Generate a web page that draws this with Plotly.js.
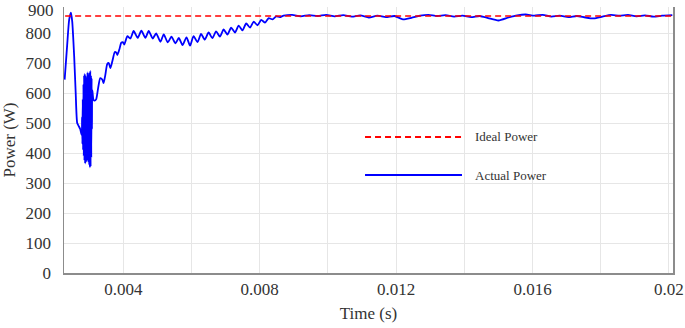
<!DOCTYPE html>
<html>
<head>
<meta charset="utf-8">
<script src="https://cdn.plot.ly/plotly-3.0.1.min.js"></script>
<style>
  body { margin: 0; background: #fff; }
  #grafico { width: 685px; height: 328px; }
</style>
</head>
<body>
<div id="grafico"></div>
<script>
// Potencia ideal (referencia constante)
const tiempoIdeal = [0.002, 0.021];
const potenciaIdeal = [857, 857];

const tiempoReal = [
  0.002279, 0.002353, 0.002412, 0.002462, 0.0025, 0.002559, 0.002603, 0.002647, 0.002691, 0.002735,
  0.00278, 0.00279, 0.0028, 0.00281, 0.00282, 0.00283, 0.00284, 0.00285, 0.00286, 0.00287,
  0.00288, 0.00289, 0.0029, 0.00291, 0.00292, 0.00293, 0.00294, 0.00295, 0.00296, 0.00297,
  0.00298, 0.00299, 0.003, 0.00301, 0.00302, 0.00303, 0.00304, 0.00305, 0.00306, 0.00307,
  0.00308, 0.00309, 0.003126, 0.003162, 0.003206, 0.003265, 0.003324, 0.003382, 0.003421, 0.003471,
  0.003529, 0.003574, 0.003618, 0.003676, 0.00375, 0.003794, 0.003824, 0.003882, 0.003941, 0.003985,
  0.004029, 0.004118, 0.004206, 0.004303, 0.004421, 0.004529, 0.004647, 0.004744, 0.004862, 0.004962,
  0.005088, 0.005185, 0.005303, 0.005412, 0.005529, 0.005626, 0.005735, 0.005853, 0.005956, 0.006059,
  0.006176, 0.006279, 0.006388, 0.0065, 0.006612, 0.00672, 0.006832, 0.006941, 0.007053, 0.007162,
  0.007274, 0.007382, 0.007494, 0.007603, 0.007715, 0.007824, 0.007935, 0.008044, 0.008156, 0.008265,
  0.008376, 0.008485, 0.008588, 0.0087, 0.00895, 0.0092, 0.00945, 0.0097, 0.00995, 0.0102,
  0.01045, 0.0107, 0.01095, 0.0112, 0.01145, 0.0117, 0.01195, 0.0122, 0.01245, 0.0127,
  0.01295, 0.0132, 0.01345, 0.0137, 0.01395, 0.0142, 0.01445, 0.0147, 0.015, 0.0153,
  0.01555, 0.0158, 0.01605, 0.0163, 0.01655, 0.0168, 0.01705, 0.0173, 0.01755, 0.0178,
  0.01805, 0.0183, 0.01855, 0.0188, 0.01905, 0.0193, 0.01955, 0.0198, 0.0201
];
const potenciaReal = [
  645, 760, 845, 868, 840, 720, 600, 500, 490, 480,
  460, 520, 430, 580, 410, 630, 390, 660, 375, 665,
  365, 660, 368, 650, 372, 655, 380, 670, 375, 660,
  368, 665, 360, 670, 352, 675, 355, 660, 385, 650,
  480, 610, 577, 575, 580, 620, 650, 645, 633, 660,
  697, 700, 683, 705, 737, 735, 727, 745, 768, 770,
  762, 790, 782, 807, 784, 808, 784, 807, 782, 799,
  771, 796, 769, 788, 766, 784, 760, 786, 758, 790,
  770, 797, 778, 802, 783, 806, 788, 812, 795, 818,
  802, 825, 809, 832, 818, 838, 826, 844, 835, 850,
  846, 856, 853, 858, 861, 856, 860, 857, 861, 856,
  860, 855, 859, 852, 858, 853, 857, 846, 851, 858,
  861, 857, 860, 855, 858, 853, 857, 850, 842, 852,
  859, 862, 858, 861, 855, 858, 853, 857, 852, 849,
  855, 861, 858, 861, 856, 859, 855, 858, 860
];

const fuente = '"Liberation Serif", "Times New Roman", serif';
const colorTexto = '#333333';

let datos = [
  {
    x: tiempoReal,
    y: potenciaReal,
    type: 'scatter',
    mode: 'lines',
    name: 'Actual Power',
    line: { color: '#0000ff', width: 1.8, simplify: false, shape: 'spline', smoothing: 0.6 }
  },
  {
    x: tiempoIdeal,
    y: potenciaIdeal,
    type: 'scatter',
    mode: 'lines',
    name: 'Ideal Power',
    line: { color: '#ff0000', width: 1.5, dash: '6px,4px' }
  }
];

let layout = {
  width: 685,
  height: 328,
  margin: { l: 64, r: 12, t: 7, b: 55 },
  paper_bgcolor: '#ffffff',
  plot_bgcolor: '#ffffff',
  showlegend: false,
  font: { family: fuente, size: 17, color: colorTexto },
  xaxis: {
    range: [0.00226, 0.02012],
    tick0: 0,
    dtick: 0.004,
    showgrid: true,
    gridcolor: '#e6e6e6',
    gridwidth: 1,
    minor: { dtick: 0.002, showgrid: true, gridcolor: '#e6e6e6', gridwidth: 1 },
    showline: true,
    linecolor: '#8c8c8c',
    linewidth: 1.5,
    zeroline: false,
    ticks: '',
    ticklabelstandoff: 0,
    tickfont: { family: fuente, size: 17, color: colorTexto },
    title: { text: 'Time (s)', font: { family: fuente, size: 17, color: colorTexto }, standoff: 9 }
  },
  yaxis: {
    range: [0, 887],
    dtick: 100,
    showgrid: true,
    gridcolor: '#e6e6e6',
    gridwidth: 1,
    showline: true,
    mirror: true,
    linecolor: '#8c8c8c',
    linewidth: 1.5,
    zeroline: false,
    ticks: '',
    ticklabelstandoff: 8,
    tickfont: { family: fuente, size: 17, color: colorTexto },
    title: { text: 'Power (W)', font: { family: fuente, size: 17, color: colorTexto }, standoff: 8 }
  },
  shapes: [
    // Muestras de la leyenda
    { type: 'line', xref: 'paper', yref: 'paper', x0: 0.4943, x1: 0.6535, y0: 0.5113, y1: 0.5113,
      line: { color: '#ff0000', width: 2, dash: '6px,4px' } },
    { type: 'line', xref: 'paper', yref: 'paper', x0: 0.4943, x1: 0.6535, y0: 0.3684, y1: 0.3684,
      line: { color: '#0000ff', width: 2 } }
  ],
  annotations: [
    { xref: 'paper', yref: 'paper', x: 0.6716, y: 0.5113, xanchor: 'left', yanchor: 'middle',
      text: 'Ideal Power', showarrow: false, font: { family: fuente, size: 13, color: colorTexto } },
    { xref: 'paper', yref: 'paper', x: 0.6716, y: 0.3684, xanchor: 'left', yanchor: 'middle',
      text: 'Actual Power', showarrow: false, font: { family: fuente, size: 13, color: colorTexto } },
    // Etiqueta superior del eje Y
    { xref: 'paper', yref: 'paper', x: 0, y: 1, xanchor: 'right', yanchor: 'middle', xshift: -8, yshift: -3,
      text: '900', showarrow: false, font: { family: fuente, size: 17, color: colorTexto } }
  ]
};

Plotly.newPlot('grafico', datos, layout, { displayModeBar: false, staticPlot: true });
</script>
</body>
</html>
